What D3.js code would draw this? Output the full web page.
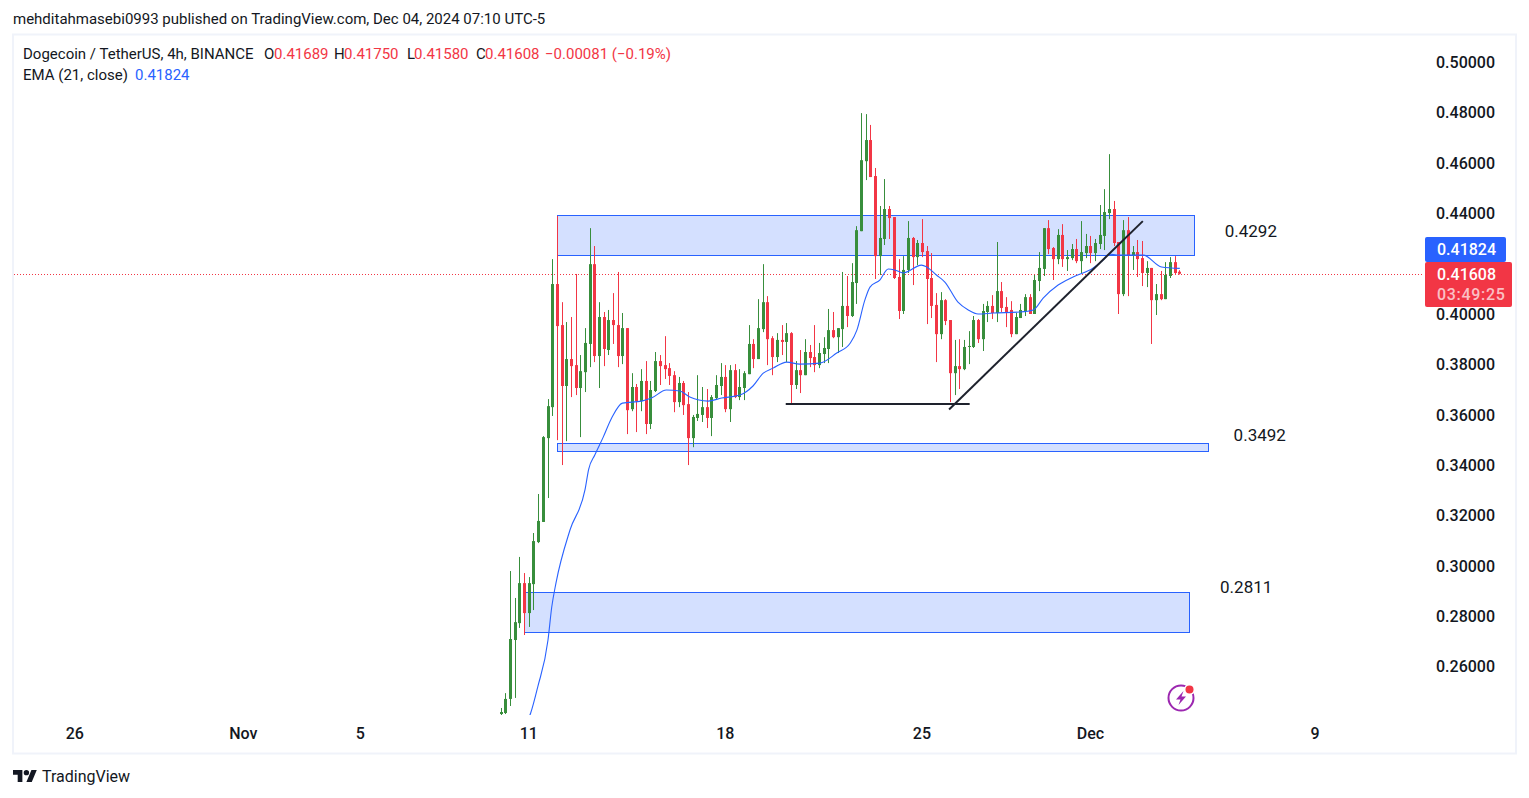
<!DOCTYPE html>
<html>
<head>
<meta charset="utf-8">
<script src="https://cdn.jsdelivr.net/npm/d3@7"></script>
<style>
  html, body { margin: 0; padding: 0; background: #fff; overflow: hidden; }
  text { font-family: Roboto, sans-serif; }
</style>
</head>
<body>
<div id="chart"></div>
<script>
var opens = [
  .2412,.2416,.2472,.2706,.2773,.2932,.2813,.2928,.3095,.3175,
  .3508,.3631,.4120,.3957,.3715,.3822,.3798,.3707,.3770,.3882,
  .4199,.3834,.3989,.3858,.3977,.3957,.3834,.3945,.3623,.3711,
  .3655,.3735,.3564,.3695,.3814,.3798,.3786,.3758,.3651,.3727,
  .3643,.3508,.3588,.3600,.3631,.3588,.3667,.3715,.3751,.3623,
  .3778,.3671,.3707,.3762,.3882,.3822,.3941,.4048,.3905,.3830,
  .3898,.3890,.3925,.3719,.3778,.3758,.3850,.3830,.3798,.3842,
  .3862,.3937,.3909,.3941,.4033,.3993,.4124,.4330,.4608,.4692,
  .4549,.4231,.4299,.4418,.4386,.4148,.4013,.4176,.4303,.4227,
  .4283,.4251,.4144,.4037,.3921,.4056,.3977,.3766,.3794,.3782,
  .3870,.3870,.3977,.3901,.4009,.4033,.4005,.4092,.4029,.4017,
  .3921,.3985,.4013,.4068,.4001,.4132,.4180,.4342,.4263,.4219,
  .4315,.4219,.4223,.4259,.4211,.4243,.4271,.4243,.4279,.4311,
  .4402,.4418,.4287,.4080,.4334,.4235,.4247,.4223,.4164,.4184,
  .4056,.4080,.4060,.4152,.4207,.41689
];
var highs = [
  .2436,.2495,.2980,.2873,.3036,.2972,.2956,.3131,.3286,.3516,
  .3663,.4219,.4390,.4048,.3969,.3989,.4160,.3838,.3945,.4342,
  .4271,.4048,.4009,.4017,.4084,.4168,.4005,.3945,.3766,.3723,
  .3782,.3814,.3735,.3850,.3838,.3913,.3806,.3774,.3751,.3735,
  .3691,.3600,.3758,.3711,.3703,.3679,.3758,.3806,.3798,.3798,
  .3802,.3782,.3774,.3957,.3901,.4060,.4199,.4072,.3913,.3925,
  .3957,.3965,.3929,.3814,.3858,.3901,.3878,.3957,.3886,.3909,
  .4021,.4009,.3945,.4168,.4152,.4203,.4350,.4799,.4795,.4752,
  .4581,.4430,.4537,.4430,.4386,.4219,.4231,.4370,.4307,.4295,
  .4378,.4271,.4243,.4084,.4088,.4060,.3977,.3898,.3901,.3898,
  .3933,.3993,.3981,.4041,.4052,.4076,.4287,.4128,.4068,.4052,
  .4005,.4041,.4080,.4080,.4156,.4247,.4342,.4374,.4267,.4338,
  .4358,.4255,.4279,.4299,.4370,.4319,.4311,.4299,.4434,.4497,
  .4636,.4450,.4287,.4374,.4386,.4271,.4295,.4291,.4211,.4184,
  .4120,.4172,.4207,.4227,.4231,.41750
];
var lows = [
  .2390,.2412,.2444,.2476,.2754,.2726,.2758,.2825,.3091,.3175,
  .3270,.3596,.3500,.3401,.3496,.3671,.3679,.3512,.3691,.3790,
  .3810,.3707,.3794,.3838,.3882,.3790,.3802,.3524,.3615,.3532,
  .3615,.3524,.3544,.3691,.3719,.3743,.3719,.3611,.3631,.3600,
  .3401,.3472,.3576,.3572,.3548,.3516,.3663,.3679,.3611,.3572,
  .3667,.3659,.3659,.3762,.3786,.3822,.3929,.3798,.3758,.3810,
  .3838,.3810,.3643,.3703,.3687,.3758,.3790,.3770,.3786,.3806,
  .3806,.3905,.3846,.3870,.3949,.3989,.4041,.4330,.4533,.4545,
  .4140,.4156,.4275,.4299,.4140,.3981,.4001,.4164,.4116,.4195,
  .4227,.3961,.3985,.3810,.3901,.3957,.3651,.3679,.3703,.3778,
  .3802,.3866,.3886,.3854,.3969,.3981,.3969,.4009,.3949,.3909,
  .3921,.3985,.3993,.4001,.4001,.4092,.4152,.4239,.4136,.4199,
  .4188,.4172,.4215,.4203,.4164,.4223,.4203,.4211,.4259,.4255,
  .4378,.4271,.4001,.4072,.4072,.4176,.4148,.4112,.4108,.3882,
  .3997,.4056,.4060,.4144,.4160,.41580
];
var closes = [
  .2420,.2472,.2710,.2777,.2932,.2813,.2932,.3099,.3179,.3512,
  .3635,.4120,.3953,.3715,.3822,.3794,.3707,.3774,.3886,.4199,
  .3834,.3989,.3862,.3977,.3957,.3834,.3945,.3619,.3711,.3655,
  .3735,.3564,.3699,.3814,.3794,.3782,.3755,.3651,.3727,.3639,
  .3508,.3592,.3604,.3631,.3588,.3671,.3719,.3751,.3623,.3778,
  .3671,.3711,.3766,.3882,.3822,.3945,.4048,.3901,.3830,.3898,
  .3890,.3925,.3719,.3778,.3758,.3850,.3826,.3798,.3846,.3866,
  .3937,.3909,.3945,.4033,.3993,.4128,.4334,.4612,.4692,.4545,
  .4231,.4303,.4418,.4382,.4144,.4013,.4176,.4303,.4227,.4283,
  .4247,.4140,.4033,.3921,.4056,.3973,.3766,.3794,.3782,.3870,
  .3874,.3977,.3901,.4013,.4033,.4005,.4092,.4025,.4009,.3921,
  .3989,.4017,.4068,.4001,.4136,.4184,.4342,.4259,.4219,.4315,
  .4219,.4227,.4259,.4211,.4247,.4271,.4243,.4283,.4315,.4406,
  .4418,.4283,.4080,.4334,.4235,.4247,.4219,.4164,.4184,.4056,
  .4080,.4060,.4156,.4207,.4164,.41608
];

// EMA readings: bar position and value
var emaBars = [
  5.2,6.3,7.8,10,10.8,11.7,14.7,17.9,18.7,20,21.8,23.6,25.9,30,32.1,35.3,38.2,40.3,44.2,47.1,
  51,53.8,56,58.1,61,63.8,68.1,71.7,74.6,76,77.7,78.8,80.9,82.7,84.1,85.9,89.8,90.9,93,94.8,
  97.6,99.8,101.9,105.1,110.8,113.7,115.8,119,122.2,126.5,128.6,130,131.5,137.2,141.1,145
];
var emaValues = [
  .2370,.2416,.2519,.2706,.2837,.2932,.3143,.3302,.3385,.3441,.3512,.3588,.3647,.3655,.3667,.3699,.3695,.3671,.3655,.3667,
  .3679,.3715,.3766,.3786,.3810,.3802,.3806,.3846,.3886,.3937,.4056,.4108,.4136,.4180,.4176,.4164,.4195,.4188,.4156,.4128,
  .4048,.4017,.4001,.4005,.4009,.4017,.4064,.4116,.4148,.4184,.4215,.4239,.4235,.4235,.4188,.41824
];

// 0.42 sits under the price tags in the picture, so it has no label
var priceTicks = [.5,.48,.46,.44,.4,.38,.36,.34,.32,.3,.28,.26];
var dateTickBars = [-91,-55,-30,6,48,90,126,174];
var dateTickLabels = ["26","Nov","5","11","18","25","Dec","9"];

// drawn zones: first bar, last bar, upper price, lower price, label
var zoneStart = [12,12,4.9];
var zoneEnd = [148.1,151.1,147];
var zoneTop = [.4393,.3487,.2896];
var zoneBottom = [.4234,.3455,.2736];
var zoneLabels = ["0.4292","0.3492","0.2811"];
var zoneLabelBars = [154.6,156.5,153.6];
var zoneLabelPrices = [.4308,.3498,.2894];

var lastPrice = 0.41608, emaLast = 0.41824;

var width = 1529, height = 798;
var paneRight = 1424, paneBottom = 715;
var GREEN = "#388e3c", RED = "#f23645", BLUE = "#2962ff", INK = "#131722";

var x = d3.scaleLinear().domain([0, 100]).range([501.2, 969.2]);
var y = d3.scaleLinear().domain([0.5, 0.26]).range([62.5, 666.7]);

var svg = d3.select("#chart").append("svg")
  .attr("width", width)
  .attr("height", height)
  .style("display", "block");

svg.append("rect")
  .attr("x", 13).attr("y", 34.5)
  .attr("width", 1503).attr("height", 719)
  .attr("fill", "#fff")
  .attr("stroke", "#f0f3fa")
  .attr("stroke-width", 2);

svg.append("defs").append("clipPath").attr("id", "pane")
  .append("rect")
  .attr("x", 14).attr("y", 36)
  .attr("width", paneRight - 14).attr("height", paneBottom - 36);

// header
svg.append("text")
  .attr("x", 13).attr("y", 24)
  .attr("font-size", 15).attr("fill", INK)
  .text("mehditahmasebi0993 published on TradingView.com, Dec 04, 2024 07:10 UTC-5");

var legendParts = [
  [23, 59, "Dogecoin / TetherUS, 4h, BINANCE", INK],
  [264, 59, "O", INK], [274, 59, "0.41689", RED],
  [334, 59, "H", INK], [344, 59, "0.41750", RED],
  [407, 59, "L", INK], [414, 59, "0.41580", RED],
  [476, 59, "C", INK], [485, 59, "0.41608", RED],
  [545, 59, "\u22120.00081 (\u22120.19%)", RED],
  [23, 80, "EMA (21, close)", INK],
  [135, 80, "0.41824", BLUE]
];
svg.append("g").selectAll("text")
  .data(legendParts)
  .enter()
  .append("text")
  .attr("x", function(d) { return d[0]; })
  .attr("y", function(d) { return d[1]; })
  .attr("fill", function(d) { return d[3]; })
  .attr("font-size", 15)
  .text(function(d) { return d[2]; });

var plot = svg.append("g").attr("clip-path", "url(#pane)");

// last price line
plot.append("line")
  .attr("x1", 14).attr("x2", paneRight)
  .attr("y1", Math.round(y(lastPrice)) + 0.5).attr("y2", Math.round(y(lastPrice)) + 0.5)
  .attr("stroke", RED)
  .attr("stroke-dasharray", "1 2");

// zones
plot.selectAll(".zone")
  .data(zoneLabels)
  .enter()
  .append("rect")
  .attr("class", "zone")
  .attr("x", function(d, i) { return Math.floor(x(zoneStart[i])) + 0.5; })
  .attr("y", function(d, i) { return Math.floor(y(zoneTop[i])) + 0.5; })
  .attr("width", function(d, i) { return Math.round(x(zoneEnd[i]) - x(zoneStart[i])); })
  .attr("height", function(d, i) { return Math.round(y(zoneBottom[i]) - y(zoneTop[i])); })
  .attr("fill", BLUE)
  .attr("fill-opacity", 0.2)
  .attr("stroke", BLUE)
  .attr("stroke-width", 1);

// candles
var bars = d3.range(closes.length);
var candle = plot.selectAll(".candle")
  .data(bars)
  .enter()
  .append("g")
  .attr("class", "candle")
  .attr("fill", function(i) { return closes[i] >= opens[i] ? GREEN : RED; })
  .attr("stroke", "none");

candle.append("rect")
  .attr("x", function(i) { return Math.floor(x(i)); })
  .attr("width", 1)
  .attr("y", function(i) { return y(highs[i]); })
  .attr("height", function(i) { return y(lows[i]) - y(highs[i]); });

candle.append("rect")
  .attr("x", function(i) { return Math.floor(x(i)) - 1; })
  .attr("width", 3)
  .attr("y", function(i) { return y(Math.max(opens[i], closes[i])); })
  .attr("height", function(i) { return Math.max(1, Math.abs(y(opens[i]) - y(closes[i]))); });

// EMA
var emaLine = d3.line()
  .x(function(d, i) { return x(emaBars[i]); })
  .y(function(d) { return y(d); })
  .curve(d3.curveMonotoneX);

plot.append("path")
  .attr("d", emaLine(emaValues))
  .attr("fill", "none")
  .attr("stroke", BLUE)
  .attr("stroke-width", 1.1);

// hand drawn lines
var trendBars = [[60.8, 100.1], [95.7, 137.1]];
var trendPrices = [[.3643, .3643], [.3622, .4370]];
plot.selectAll(".trend")
  .data(trendBars)
  .enter()
  .append("line")
  .attr("class", "trend")
  .attr("x1", function(d) { return x(d[0]); })
  .attr("x2", function(d) { return x(d[1]); })
  .attr("y1", function(d, i) { return y(trendPrices[i][0]); })
  .attr("y2", function(d, i) { return y(trendPrices[i][1]); })
  .attr("stroke", "#1e222d")
  .attr("stroke-width", 2);

// zone labels
svg.append("g").selectAll("text")
  .data(zoneLabels)
  .enter()
  .append("text")
  .attr("x", function(d, i) { return x(zoneLabelBars[i]); })
  .attr("y", function(d, i) { return y(zoneLabelPrices[i]); })
  .attr("font-size", 17)
  .attr("fill", INK)
  .text(function(d) { return d; });

// axes
var yAxis = d3.axisRight(y)
  .tickValues(priceTicks)
  .tickSize(0)
  .tickPadding(0)
  .tickFormat(d3.format(".5f"));

var yAxisG = svg.append("g")
  .attr("transform", "translate(1436,0)")
  .call(yAxis);
yAxisG.select(".domain").remove();
yAxisG.selectAll("text")
  .attr("font-size", 16)
  .attr("font-weight", 500)
  .attr("fill", INK)
  .style("font-family", "Roboto, sans-serif");

var xAxis = d3.axisBottom(x)
  .tickValues(dateTickBars)
  .tickSize(0)
  .tickPadding(0)
  .tickFormat(function(d, i) { return dateTickLabels[i]; });

var xAxisG = svg.append("g")
  .attr("transform", "translate(-1,728)")
  .call(xAxis);
xAxisG.select(".domain").remove();
xAxisG.selectAll("text")
  .attr("font-size", 16)
  .attr("font-weight", 500)
  .attr("fill", INK)
  .style("font-family", "Roboto, sans-serif");

// price tags
svg.append("rect")
  .attr("x", 1425).attr("y", 237).attr("width", 81).attr("height", 25)
  .attr("rx", 2)
  .attr("fill", BLUE);
svg.append("text")
  .attr("x", 1437).attr("y", 255)
  .attr("font-size", 16).attr("font-weight", 500).attr("fill", "#fff")
  .text(d3.format(".5f")(emaLast));

svg.append("rect")
  .attr("x", 1425).attr("y", 262).attr("width", 87).attr("height", 45)
  .attr("rx", 2)
  .attr("fill", RED);
svg.append("text")
  .attr("x", 1437).attr("y", 280)
  .attr("font-size", 16).attr("font-weight", 500).attr("fill", "#fff")
  .text(d3.format(".5f")(lastPrice));
svg.append("text")
  .attr("x", 1437).attr("y", 300)
  .attr("font-size", 16).attr("font-weight", 500).attr("fill", "#fff").attr("fill-opacity", 0.7)
  .attr("letter-spacing", 0.7)
  .text("03:49:25");

// snapshot badge
var badge = svg.append("g").attr("transform", "translate(1181,698)");
badge.append("circle")
  .attr("r", 12.5)
  .attr("fill", "none")
  .attr("stroke", "#9c27b0")
  .attr("stroke-width", 2);
badge.append("path")
  .attr("d", "M2.5,-7 L-5,1.5 L-0.5,1.5 L-2.5,7 L5,-1.5 L0.5,-1.5 Z")
  .attr("fill", "#9c27b0");
badge.append("circle")
  .attr("cx", 8.5).attr("cy", -8.5).attr("r", 5.5)
  .attr("fill", "#fff");
badge.append("circle")
  .attr("cx", 8.5).attr("cy", -8.5).attr("r", 4)
  .attr("fill", RED);

// footer logo
var logo = svg.append("g").attr("transform", "translate(13,767.3) scale(0.67)");
logo.append("path")
  .attr("d", "M14 22H7V11H0V4h14v18zM28 22h-8l7.5-18h8L28 22z")
  .attr("fill", INK);
logo.append("circle")
  .attr("cx", 20).attr("cy", 8).attr("r", 4)
  .attr("fill", INK);
svg.append("text")
  .attr("x", 42).attr("y", 782)
  .attr("font-size", 16)
  .attr("fill", INK)
  .text("TradingView");
</script>
</body>
</html>
